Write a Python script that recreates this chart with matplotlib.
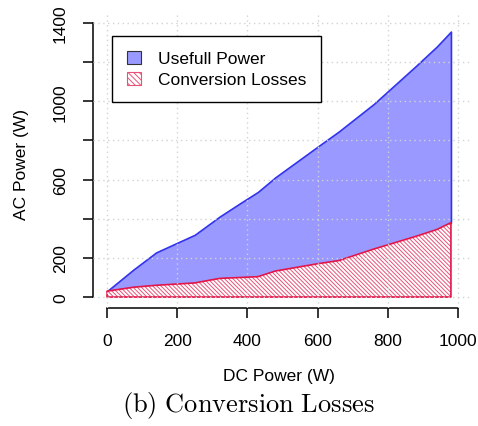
import matplotlib
matplotlib.use("Agg")
import matplotlib.pyplot as plt
from matplotlib.patches import Patch
import numpy as np

plt.rcParams['font.family'] = ['Liberation Sans', 'DejaVu Sans']
plt.rcParams['mathtext.fontset'] = 'cm'
plt.rcParams['hatch.linewidth'] = 0.7

# values
dc_power = [0, 75, 140, 250, 320, 380, 430, 480, 600, 660, 760, 880, 940, 980]
ac_total = [30, 140, 228, 318, 410, 480, 537, 612, 768, 845, 986, 1180, 1280, 1356]
losses = [30, 50, 60, 72, 95, 100, 104, 133, 170, 186, 245, 310, 345, 380]

x_ticks = [0, 200, 400, 600, 800, 1000]
y_ticks = [0, 200, 400, 600, 800, 1000, 1200, 1400]
y_labels = ['0', '200', '', '600', '', '1000', '', '1400']

blue_fill = '#9999ff'
blue_line = '#3333ee'
red_line = '#e3164a'
hatch_col = '#e8527a'
hatch = '\\' * 8

W, H = 478, 427
fig = plt.figure(figsize=(W / 100, H / 100), dpi=100)
ax = fig.add_axes([93 / W, 1 - 309 / H, (472 - 93) / W, (309 - 13) / H])
ax.set_xlim(-40, 1040)
ax.set_ylim(-56, 1456)

# areas
ax.fill_between(dc_power, losses, ac_total, facecolor=blue_fill,
                edgecolor=blue_line, linewidth=1.2, zorder=2)
ax.fill_between(dc_power, 0, losses, facecolor='white', edgecolor=hatch_col,
                hatch=hatch, linewidth=0, zorder=3)
ax.fill_between(dc_power, 0, losses, facecolor='none', edgecolor=red_line,
                linewidth=1.2, zorder=4)

# dotted grid on top, like R's grid()
for gx in x_ticks:
    ax.axvline(gx, color='#d3d3d3', linestyle=(0, (1, 2.5)), linewidth=1, zorder=5)
for gy in y_ticks:
    ax.axhline(gy, color='#d3d3d3', linestyle=(0, (1, 2.5)), linewidth=1, zorder=5)

# R-style axes
for s in ['top', 'right']:
    ax.spines[s].set_visible(False)
ax.spines['left'].set_bounds(0, 1400)
ax.spines['bottom'].set_bounds(0, 1000)
ax.spines['left'].set_linewidth(1.1)
ax.spines['bottom'].set_linewidth(1.1)
ax.set_xticks(x_ticks)
ax.set_xticklabels([str(v) for v in x_ticks])
ax.set_yticks(y_ticks)
ax.set_yticklabels(y_labels)
ax.tick_params(axis='both', length=7, width=1.1, labelsize=12.5, pad=11)
for lab in ax.get_yticklabels():
    lab.set_rotation(90)
    lab.set_va('center')

fig.text(279 / W, 1 - 377 / H, 'DC Power (W)', ha='center', va='center', fontsize=12.5)
fig.text(22 / W, 1 - 165 / H, 'AC Power (W)', ha='center', va='center',
         rotation=90, fontsize=12.5)
fig.text(248 / W, 1 - 406 / H, r'$\mathrm{(b)\ Conversion\ Losses}$',
         ha='center', va='center', fontsize=19)

handles = [Patch(facecolor=blue_fill, edgecolor='#333333', linewidth=0.8),
           Patch(facecolor='white', edgecolor=hatch_col, hatch='\\' * 6, linewidth=0.8)]
leg = ax.legend(handles, ['Usefull Power', 'Conversion Losses'], loc='upper left',
                bbox_to_anchor=(112 / W, 1 - 37 / H), bbox_transform=fig.transFigure,
                borderaxespad=0, fancybox=False, framealpha=1, edgecolor='black',
                fontsize=12.5, handlelength=0.8, handleheight=0.8,
                handletextpad=1.0, labelspacing=0.3, borderpad=0.85)
leg.get_frame().set_linewidth(1.0)
leg.set_zorder(10)

fig.savefig('out.png', dpi=100)
